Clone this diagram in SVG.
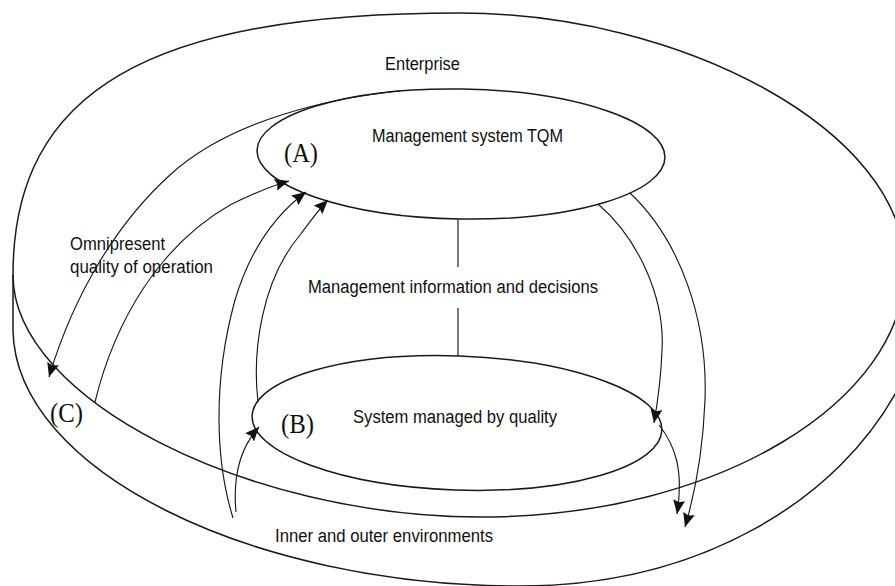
<svg xmlns="http://www.w3.org/2000/svg" width="895" height="586" viewBox="0 0 895 586">
  <style>
    .ring { fill: none; stroke: #1a1a1a; stroke-width: 1.5; }
    .link { fill: none; stroke: #1a1a1a; stroke-width: 1.15; }
    .lbl { font-family: "Liberation Sans", Arial, sans-serif; font-size: 18px; fill: #111; }
    .tag { font-family: "Liberation Serif", "Times New Roman", serif; font-size: 27px; fill: #111; }
  </style>
  <defs>
    <marker id="head" viewBox="0 0 14 12" refX="14" refY="6" markerWidth="14" markerHeight="12" markerUnits="userSpaceOnUse" orient="auto">
      <path d="M0,0 L14,6 L0,12 L2,6 z" fill="#111"/>
    </marker>
  </defs>
  <rect width="895" height="586" fill="#fff"/>

  <!-- Enterprise disc: top face and lower rim -->
  <g id="enterprise">
    <path class="ring" d="M13,275 C13,90 150,13 460,13 C680,13 905,130 905,268 C905,400 720,517 480,517 C250,517 13,400 13,275 Z"/>
    <path class="ring" d="M13,275 L13,330 C15,470 250,586 520,586 C700,586 840,500 900,385"/>
    <text class="lbl" x="385" y="70" textLength="75" lengthAdjust="spacingAndGlyphs">Enterprise</text>
    <text class="tag" x="50" y="422" textLength="33" lengthAdjust="spacingAndGlyphs">(C)</text>
    <text class="lbl" x="70" y="250" textLength="95" lengthAdjust="spacingAndGlyphs">Omnipresent</text>
    <text class="lbl" x="70" y="273" textLength="143" lengthAdjust="spacingAndGlyphs">quality of operation</text>
    <text class="lbl" x="275" y="542" textLength="218" lengthAdjust="spacingAndGlyphs">Inner and outer environments</text>
  </g>

  <!-- (A) management system -->
  <g id="tqm">
    <ellipse class="ring" cx="461" cy="154" rx="204" ry="65" transform="rotate(1 461 154)"/>
    <text class="tag" x="284" y="162" textLength="34" lengthAdjust="spacingAndGlyphs">(A)</text>
    <text class="lbl" x="372" y="142" textLength="191" lengthAdjust="spacingAndGlyphs">Management system TQM</text>
  </g>

  <!-- (B) managed system -->
  <g id="managed">
    <ellipse class="ring" cx="457" cy="423" rx="205" ry="67" transform="rotate(2 457 423)"/>
    <text class="tag" x="281" y="433" textLength="33" lengthAdjust="spacingAndGlyphs">(B)</text>
    <text class="lbl" x="353" y="423" textLength="204" lengthAdjust="spacingAndGlyphs">System managed by quality</text>
  </g>

  <!-- information link between A and B -->
  <g id="info">
    <text class="lbl" x="308" y="293" textLength="290" lengthAdjust="spacingAndGlyphs">Management information and decisions</text>
  </g>

  <g id="connectors">
    <path class="link" d="M458,219 L458,267"/>
    <path class="link" d="M458,308 L458,356"/>
    <!-- A to C, leaving along the top of A -->
    <path class="link" marker-end="url(#head)" d="M400,91 C330,98 230,120 170,175 C120,220 75,290 49,377"/>
    <!-- C to A -->
    <path class="link" marker-end="url(#head)" d="M95,402 C115,320 160,245 230,205 C250,195 268,187 289,181"/>
    <!-- environments to A -->
    <path class="link" marker-end="url(#head)" d="M233,518 C215,460 213,380 235,300 C250,250 275,215 306,192"/>
    <!-- B to A -->
    <path class="link" marker-end="url(#head)" d="M258,402 C252,350 262,280 300,235 C310,222 318,210 328,200"/>
    <!-- environments to B -->
    <path class="link" marker-end="url(#head)" d="M236,512 C233,480 238,450 259,427"/>
    <!-- A to B -->
    <path class="link" marker-end="url(#head)" d="M598,204 C640,240 665,300 662,350 C661,380 658,400 654,423"/>
    <!-- B to environments -->
    <path class="link" marker-end="url(#head)" d="M659,425 C675,445 684,470 677,514"/>
    <!-- A to environments -->
    <path class="link" marker-end="url(#head)" d="M630,193 C680,240 708,320 705,400 C703,450 696,490 685,527"/>
  </g>
</svg>
